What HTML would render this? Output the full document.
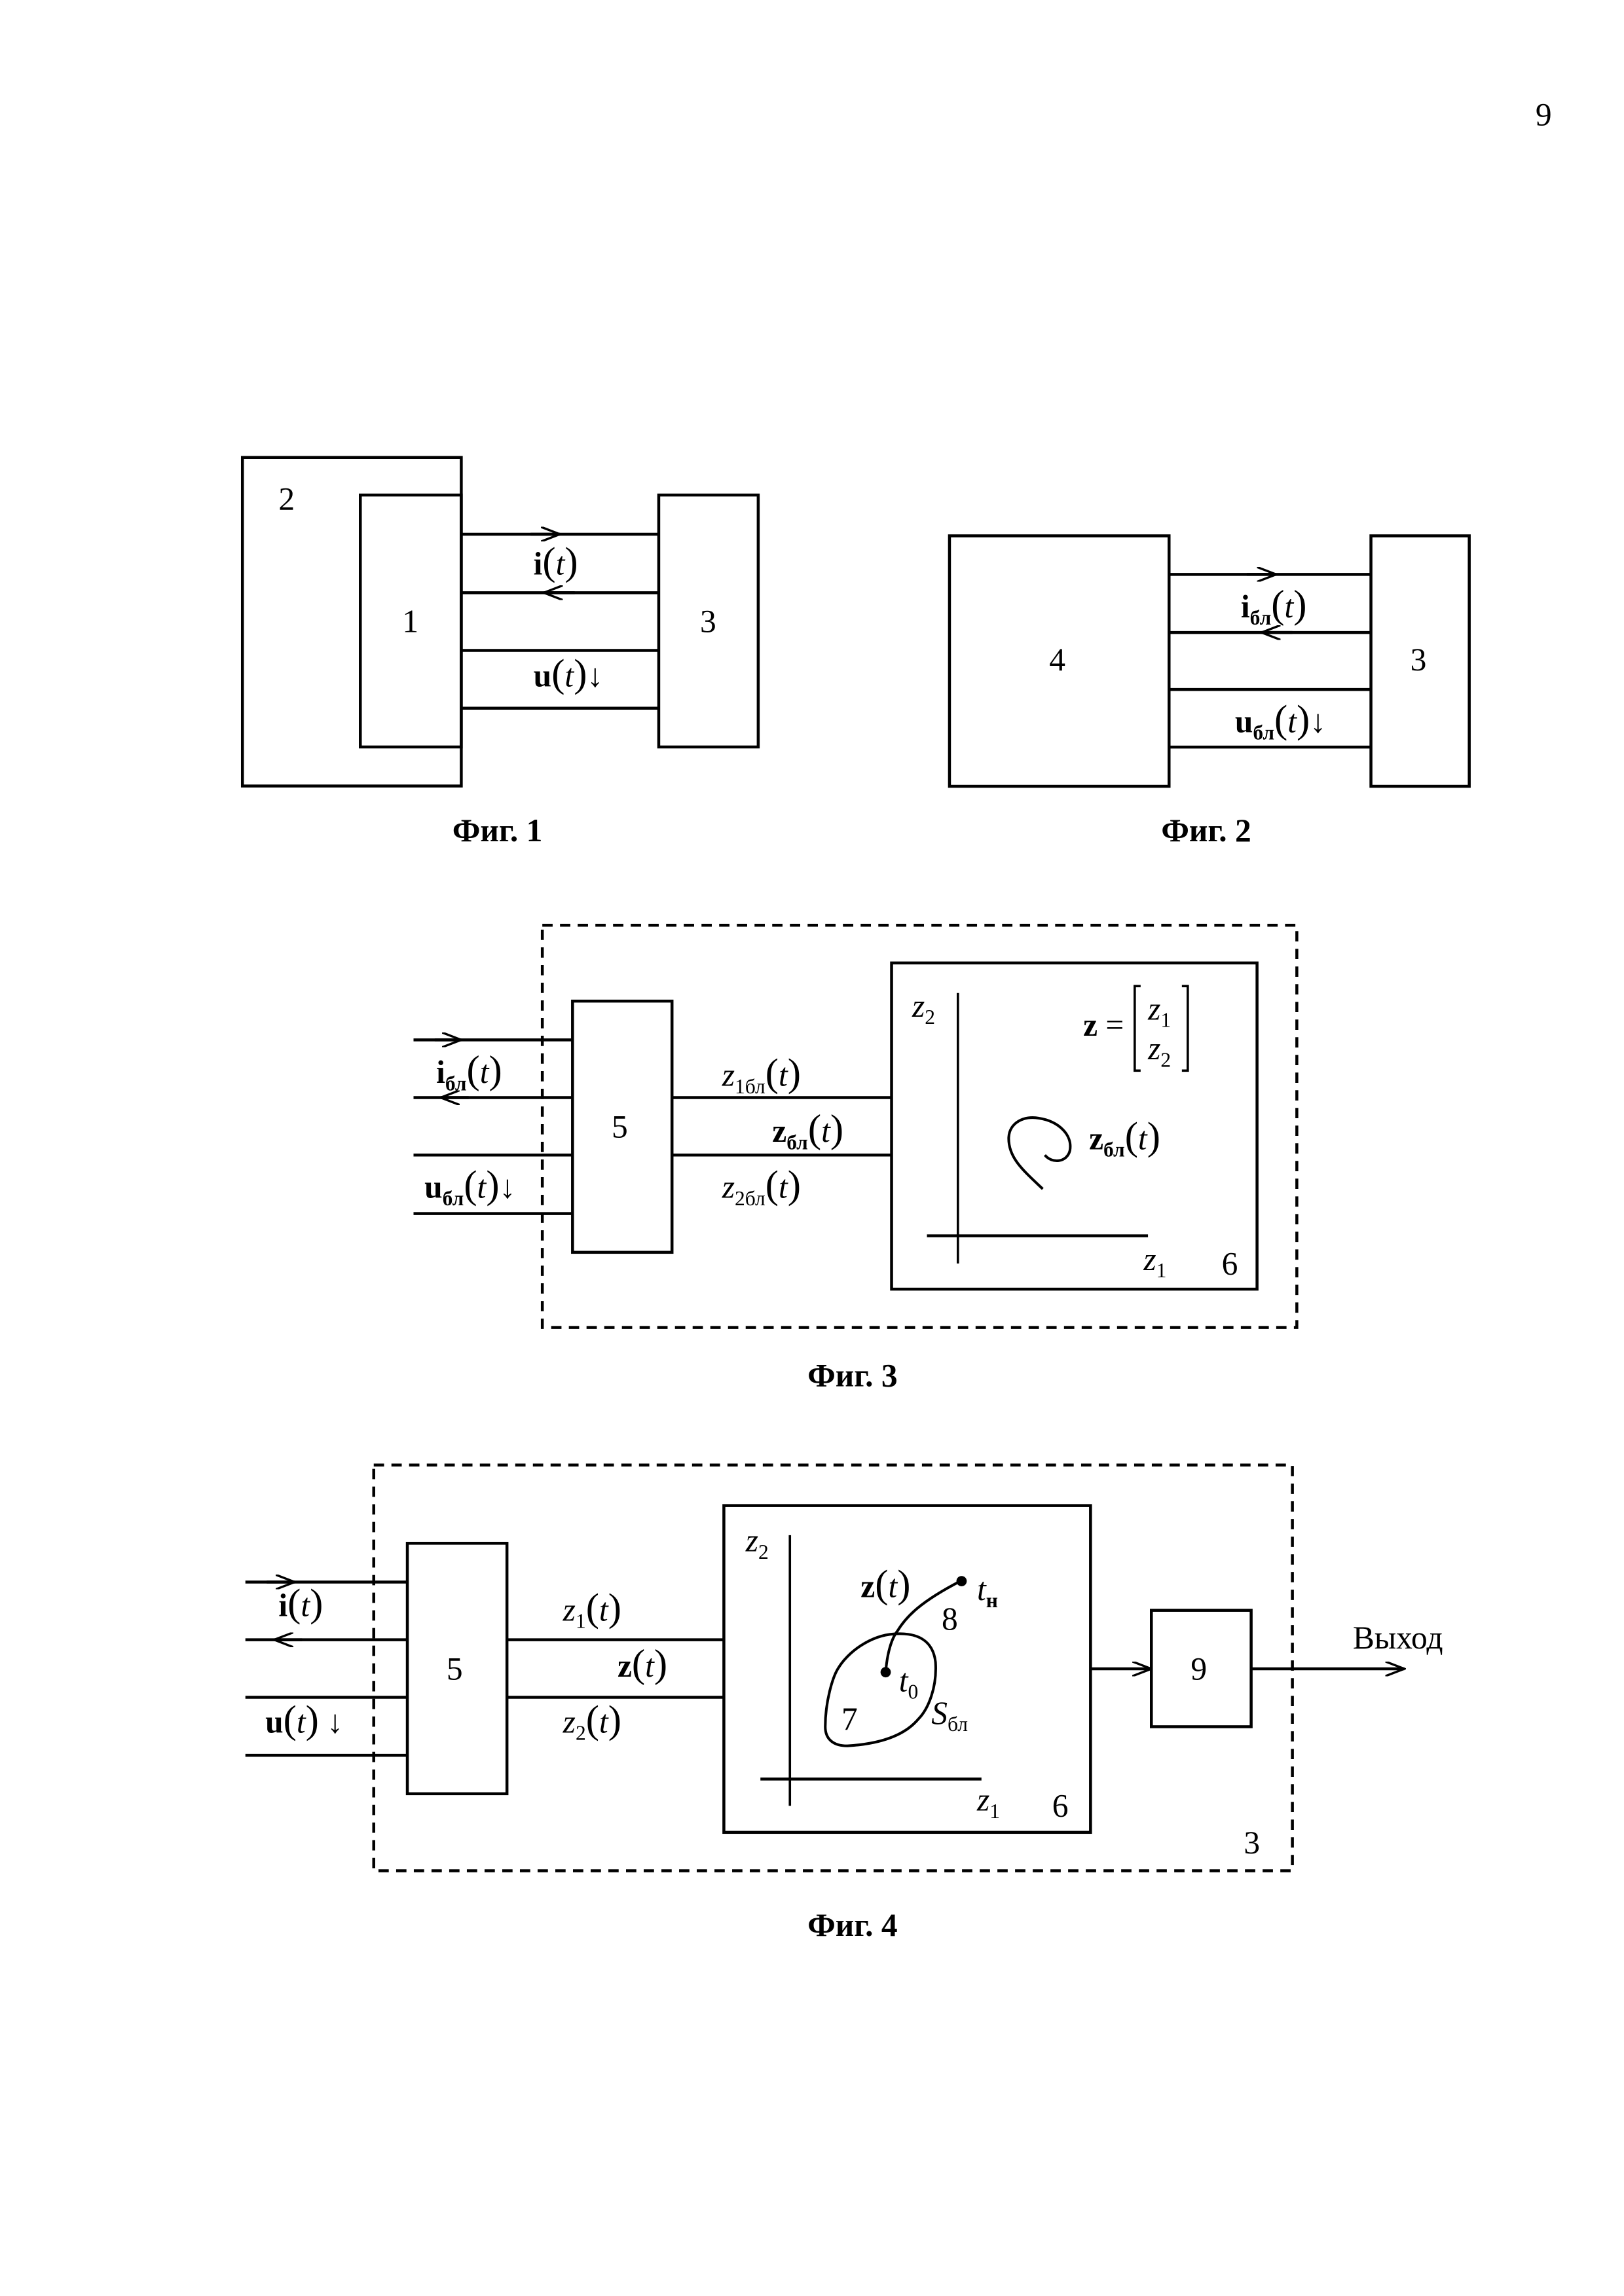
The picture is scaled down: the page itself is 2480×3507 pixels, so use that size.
<!DOCTYPE html>
<html><head><meta charset="utf-8">
<style>
html,body{margin:0;padding:0;background:#fff;}
svg{display:block;}
text{font-family:"Liberation Serif",serif;fill:#000;}
.b{font-weight:bold;}
.i{font-style:italic;}
</style></head>
<body>
<svg width="2480" height="3507" viewBox="0 0 1102 1558.4" xmlns="http://www.w3.org/2000/svg">
<defs>
<marker id="ar" markerWidth="14" markerHeight="10" refX="13" refY="5" orient="auto" markerUnits="userSpaceOnUse">
<path d="M0,0 L13,5 L0,10" fill="none" stroke="#000" stroke-width="1.5"/>
</marker>
</defs>
<g stroke="#000" stroke-width="2" fill="none">
<!-- Fig 1 -->
<rect x="164.5" y="310.5" width="148.5" height="223"/>
<rect x="244.5" y="336" width="68.5" height="171"/>
<rect x="447" y="336" width="67.5" height="171"/>
<line x1="313" y1="362.6" x2="447" y2="362.6"/>
<line x1="313" y1="402.3" x2="447" y2="402.3"/>
<line x1="313" y1="441.5" x2="447" y2="441.5"/>
<line x1="313" y1="480.7" x2="447" y2="480.7"/>
<line x1="360" y1="362.6" x2="380" y2="362.6" marker-end="url(#ar)"/>
<line x1="390" y1="402.3" x2="369" y2="402.3" marker-end="url(#ar)"/>
<!-- Fig 2 -->
<rect x="644.3" y="363.7" width="149" height="170"/>
<rect x="930.3" y="363.7" width="66.7" height="170"/>
<line x1="793.3" y1="389.9" x2="930.3" y2="389.9"/>
<line x1="793.3" y1="429.3" x2="930.3" y2="429.3"/>
<line x1="793.3" y1="468" x2="930.3" y2="468"/>
<line x1="793.3" y1="507.1" x2="930.3" y2="507.1"/>
<line x1="846" y1="389.9" x2="866" y2="389.9" marker-end="url(#ar)"/>
<line x1="877" y1="429.3" x2="856" y2="429.3" marker-end="url(#ar)"/>
<!-- Fig 3 -->
<rect x="368" y="628" width="512" height="273" stroke-dasharray="7,5"/>
<rect x="388.5" y="679.5" width="67.5" height="170.5"/>
<line x1="280.6" y1="705.8" x2="388.5" y2="705.8"/>
<line x1="280.6" y1="745" x2="388.5" y2="745"/>
<line x1="280.6" y1="784" x2="388.5" y2="784"/>
<line x1="280.6" y1="823.7" x2="388.5" y2="823.7"/>
<line x1="295" y1="705.8" x2="313" y2="705.8" marker-end="url(#ar)"/>
<line x1="318" y1="745" x2="299" y2="745" marker-end="url(#ar)"/>
<line x1="456" y1="745" x2="605" y2="745"/>
<line x1="456" y1="784" x2="605" y2="784"/>
<rect x="605" y="653.6" width="248" height="221.4"/>
<line x1="650" y1="674" x2="650" y2="857.6" stroke-width="1.6"/>
<line x1="629" y1="838.8" x2="779" y2="838.8"/>
<path d="M707.6,807 C695,795 684,786 684.5,772 C685,762 695,757 705,759 C718,761 728,770 726,781 C724,789 714,790 709,784" stroke-width="1.8"/>
<path d="M774,669.3 h-4 v57.4 h4 M802,669.3 h4 v57.4 h-4" stroke-width="1.6"/>
<!-- Fig 4 -->
<rect x="253.6" y="994.4" width="623.4" height="275.4" stroke-dasharray="7,5"/>
<rect x="276.4" y="1047.5" width="67.6" height="170"/>
<line x1="166.5" y1="1073.8" x2="276.4" y2="1073.8"/>
<line x1="166.5" y1="1113" x2="276.4" y2="1113"/>
<line x1="166.5" y1="1152" x2="276.4" y2="1152"/>
<line x1="166.5" y1="1191.4" x2="276.4" y2="1191.4"/>
<line x1="181" y1="1073.8" x2="200" y2="1073.8" marker-end="url(#ar)"/>
<line x1="205" y1="1113" x2="186" y2="1113" marker-end="url(#ar)"/>
<line x1="344" y1="1113" x2="491.2" y2="1113"/>
<line x1="344" y1="1152" x2="491.2" y2="1152"/>
<rect x="491.2" y="1021.9" width="248.8" height="221.8"/>
<line x1="536" y1="1042" x2="536" y2="1225.7" stroke-width="1.6"/>
<line x1="516" y1="1207.5" x2="666" y2="1207.5"/>
<path d="M607,1109 C622,1108 633,1113 634.8,1128 C636,1145 630,1160 623,1167 C612,1180 592,1184 575,1185 C565,1185 560,1180 560,1172 C560,1155 565,1138 569,1132 C575,1122 590,1110 607,1109 Z" stroke-width="1.8"/>
<path d="M601,1135 C602,1122 605,1112 609,1107 C615,1097 625,1087 652,1073" stroke-width="1.8"/>
<line x1="740" y1="1132.7" x2="781.3" y2="1132.7" marker-end="url(#ar)"/>
<rect x="781.3" y="1093" width="67.7" height="79"/>
<line x1="849" y1="1132.7" x2="953" y2="1132.7" marker-end="url(#ar)"/>
</g>
<circle cx="601" cy="1135" r="3.5"/>
<circle cx="652.5" cy="1073.2" r="3.5"/>
<g font-size="22">
<text x="1042" y="85">9</text>
<!-- Fig1 -->
<text x="189" y="346">2</text>
<text x="273" y="429">1</text>
<text x="475" y="429">3</text>
<text x="362" y="390" class="b">i<tspan font-weight="normal" font-size="27">(<tspan class="i" font-size="22">t</tspan>)</tspan></text>
<text x="362" y="466" class="b">u<tspan font-weight="normal"><tspan font-size="27">(</tspan><tspan class="i">t</tspan><tspan font-size="27">)</tspan>↓</tspan></text>
<text x="307" y="571" class="b">Фиг. 1</text>
<!-- Fig2 -->
<text x="712" y="455">4</text>
<text x="957" y="455">3</text>
<text x="842" y="419" class="b">i<tspan font-size="14" dy="5">бл</tspan><tspan font-weight="normal" dy="-5"><tspan font-size="27">(</tspan><tspan class="i">t</tspan><tspan font-size="27">)</tspan></tspan></text>
<text x="838" y="497" class="b">u<tspan font-size="14" dy="5">бл</tspan><tspan font-weight="normal" dy="-5"><tspan font-size="27">(</tspan><tspan class="i">t</tspan><tspan font-size="27">)</tspan>↓</tspan></text>
<text x="788" y="571" class="b">Фиг. 2</text>
<!-- Fig3 -->
<text x="415" y="772">5</text>
<text x="296" y="735" class="b">i<tspan font-size="14" dy="5">бл</tspan><tspan font-weight="normal" dy="-5"><tspan font-size="27">(</tspan><tspan class="i">t</tspan><tspan font-size="27">)</tspan></tspan></text>
<text x="288" y="813" class="b">u<tspan font-size="14" dy="5">бл</tspan><tspan font-weight="normal" dy="-5"><tspan font-size="27">(</tspan><tspan class="i">t</tspan><tspan font-size="27">)</tspan>↓</tspan></text>
<text x="490" y="737" class="i">z<tspan font-size="14" dy="5" font-style="normal">1бл</tspan><tspan dy="-5" font-style="normal"><tspan font-size="27">(</tspan><tspan class="i">t</tspan><tspan font-size="27">)</tspan></tspan></text>
<text x="524" y="775" class="b">z<tspan font-size="14" dy="5">бл</tspan><tspan font-weight="normal" dy="-5"><tspan font-size="27">(</tspan><tspan class="i">t</tspan><tspan font-size="27">)</tspan></tspan></text>
<text x="490" y="813" class="i">z<tspan font-size="14" dy="5" font-style="normal">2бл</tspan><tspan dy="-5" font-style="normal"><tspan font-size="27">(</tspan><tspan class="i">t</tspan><tspan font-size="27">)</tspan></tspan></text>
<text x="619" y="690" class="i">z<tspan font-size="14" dy="5" font-style="normal">2</tspan></text>
<text x="735" y="703" class="b">z <tspan font-weight="normal">=</tspan></text>
<text x="779" y="692" class="i">z<tspan font-size="14" dy="5" font-style="normal">1</tspan></text>
<text x="779" y="719" class="i">z<tspan font-size="14" dy="5" font-style="normal">2</tspan></text>
<text x="739" y="780" class="b">z<tspan font-size="14" dy="5">бл</tspan><tspan font-weight="normal" dy="-5"><tspan font-size="27">(</tspan><tspan class="i">t</tspan><tspan font-size="27">)</tspan></tspan></text>
<text x="776" y="862" class="i">z<tspan font-size="14" dy="5" font-style="normal">1</tspan></text>
<text x="829" y="865">6</text>
<text x="548" y="941" class="b">Фиг. 3</text>
<!-- Fig4 -->
<text x="303" y="1140">5</text>
<text x="189" y="1097" class="b">i<tspan font-weight="normal"><tspan font-size="27">(</tspan><tspan class="i">t</tspan><tspan font-size="27">)</tspan></tspan></text>
<text x="180" y="1176" class="b">u<tspan font-weight="normal"><tspan font-size="27">(</tspan><tspan class="i">t</tspan><tspan font-size="27">)</tspan> ↓</tspan></text>
<text x="382" y="1100" class="i">z<tspan font-size="14" dy="5" font-style="normal">1</tspan><tspan dy="-5" font-style="normal"><tspan font-size="27">(</tspan><tspan class="i">t</tspan><tspan font-size="27">)</tspan></tspan></text>
<text x="419" y="1138" class="b">z<tspan font-weight="normal"><tspan font-size="27">(</tspan><tspan class="i">t</tspan><tspan font-size="27">)</tspan></tspan></text>
<text x="382" y="1176" class="i">z<tspan font-size="14" dy="5" font-style="normal">2</tspan><tspan dy="-5" font-style="normal"><tspan font-size="27">(</tspan><tspan class="i">t</tspan><tspan font-size="27">)</tspan></tspan></text>
<text x="506" y="1053" class="i">z<tspan font-size="14" dy="5" font-style="normal">2</tspan></text>
<text x="584" y="1084" class="b">z<tspan font-weight="normal"><tspan font-size="27">(</tspan><tspan class="i">t</tspan><tspan font-size="27">)</tspan></tspan></text>
<text x="663" y="1086" class="i">t<tspan font-size="14" dy="5" font-style="normal" font-weight="bold">н</tspan></text>
<text x="639" y="1106">8</text>
<text x="610" y="1148" class="i">t<tspan font-size="14" dy="5" font-style="normal">0</tspan></text>
<text x="571" y="1174">7</text>
<text x="632" y="1170" class="i">S<tspan font-size="14" dy="5" font-style="normal">бл</tspan></text>
<text x="663" y="1229" class="i">z<tspan font-size="14" dy="5" font-style="normal">1</tspan></text>
<text x="714" y="1233">6</text>
<text x="808" y="1140">9</text>
<text x="918" y="1119">Выход</text>
<text x="844" y="1258">3</text>
<text x="548" y="1314" class="b">Фиг. 4</text>
</g>
</svg>
</body></html>
